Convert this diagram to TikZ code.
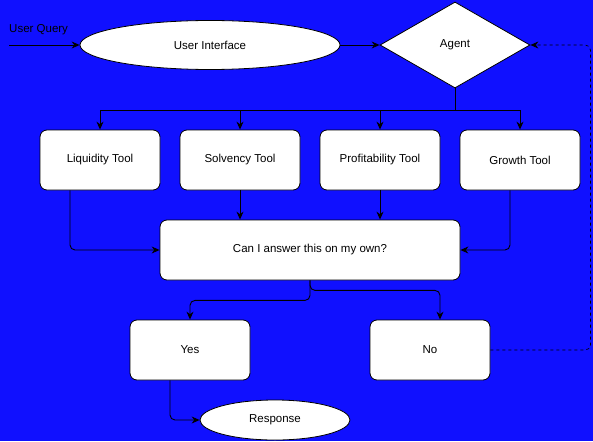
\documentclass[tikz,border=0pt]{standalone}
\usepackage{fontspec}
\setmainfont{Liberation Sans}
\usetikzlibrary{positioning,shapes.geometric,arrows.meta}
\definecolor{bgblue}{RGB}{16,16,255}
\begin{document}
\begin{tikzpicture}[x=1pt,y=-1pt,
    font=\fontsize{11.5}{13}\selectfont,
    box/.style={rectangle,draw,fill=white,rounded corners=7pt,line width=0.8pt,minimum width=120pt,minimum height=60pt},
    oval/.style={ellipse,draw,fill=white,line width=0.8pt,inner sep=0pt},
    arr/.style={-{Stealth[length=8pt,width=7pt]},line width=0.9pt,rounded corners=5pt}]
    \fill[bgblue] (0,0) rectangle (593,441);
    \useasboundingbox (0,0) rectangle (593,441);
    \node[oval,minimum width=260pt,minimum height=49pt] (ui) at (210,45) {User Interface};
    \node[diamond,draw,fill=white,line width=0.8pt,inner sep=0pt,minimum width=150pt,minimum height=86pt] (agent) at (455,45) {Agent};
    \node[box] (liq) at (100,160) {Liquidity Tool};
    \node[box] (solv) at (240,160) {Solvency Tool};
    \node[box] (prof) at (380,160) {Profitability Tool};
    \node[box] (grow) at (520,160) {Growth Tool};
    \node[box,minimum width=300pt] (ask) at (310,250) {Can I answer this on my own?};
    \node[box] (yes) at (190,350) {Yes};
    \node[box] (no) at (430,350) {No};
    \node[oval,minimum width=150pt,minimum height=40pt] (resp) at (275,420) {Response};
    \coordinate (start) at (9,45);
    \coordinate (split) at (455,110);
    \node[anchor=west,inner sep=0pt] (query) at (9,30) {User Query};
    \draw[arr] (start) -- (ui.west);
    \draw[arr] (ui.east) -- (agent.west);
    % fan out to the tools
    \draw[line width=0.9pt] (agent.south) -- (split);
    \draw[arr,sharp corners] (split) -| (liq.north);
    \draw[arr,sharp corners] (split) -| (solv.north);
    \draw[arr,sharp corners] (split) -| (prof.north);
    \draw[arr,sharp corners] (split) -| (grow.north);
    % tools into the question
    \draw[arr] ([xshift=-30pt]liq.south) |- (ask.west);
    \draw[arr] (solv.south) -- (solv.south|-ask.north);
    \draw[arr] (prof.south) -- (prof.south|-ask.north);
    \draw[arr] ([xshift=-10pt]grow.south) |- (ask.east);
    % answers
    \draw[arr] (ask.south) -- ++(0,20) -| (yes.north);
    \draw[arr] (ask.south) -- ++(0,10) -| ([xshift=10pt]no.north);
    \draw[arr] ([xshift=-20pt]yes.south) |- (resp.west);
    \draw[arr,dashed,line width=0.7pt] (no.east) -- ++(100,0) |- (agent.east);
\end{tikzpicture}
\end{document}
